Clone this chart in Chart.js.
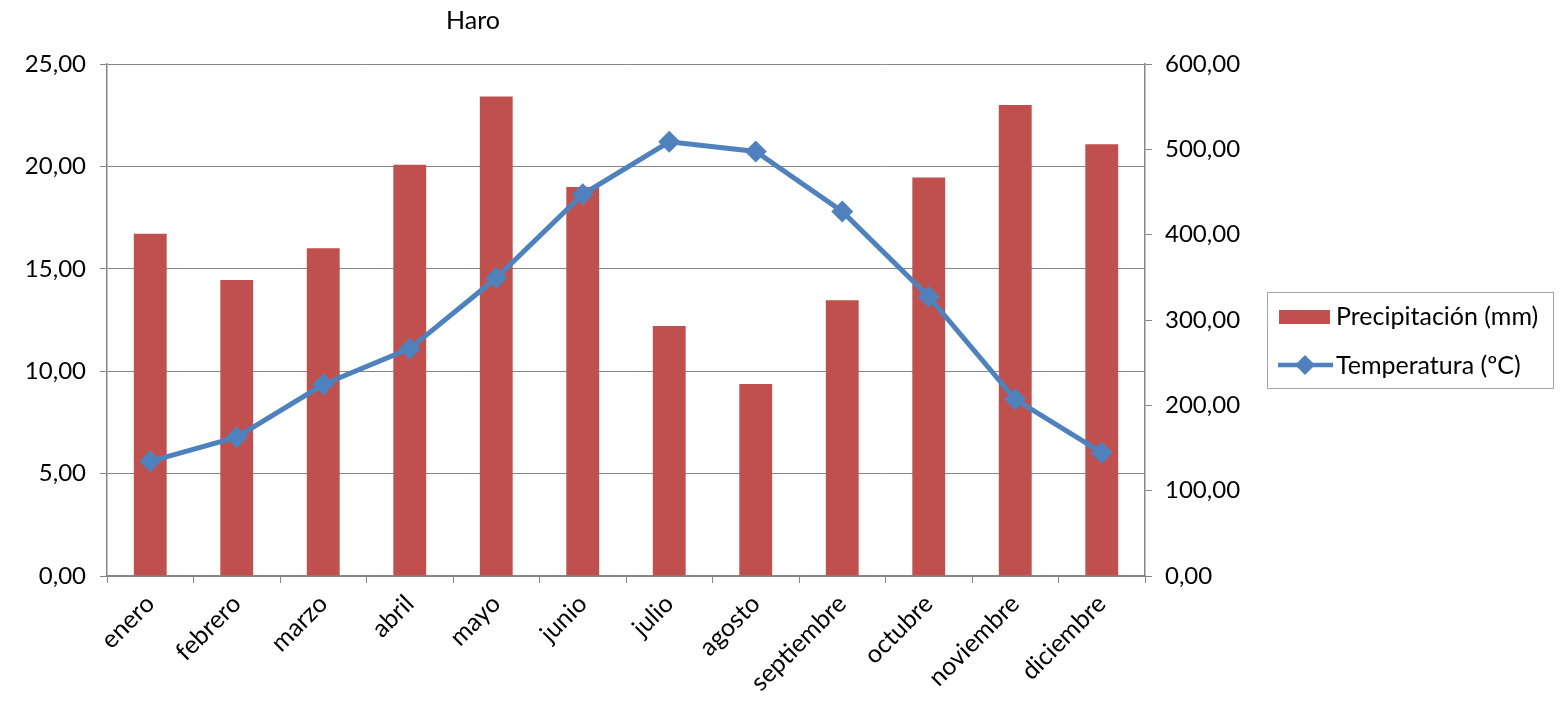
<!DOCTYPE html>
<html>
<head>
  <title>Haro</title>
  <script src="https://cdn.jsdelivr.net/npm/chart.js"></script>
  <style>
    html, body { margin: 0; padding: 0; background: #fff; }
    #wrap { width: 1566px; height: 704px; }
  </style>
</head>
<body>
  <div id="wrap"><canvas id="chart" width="1566" height="704"></canvas></div>
  <script>
    // data
    const months = ['enero', 'febrero', 'marzo', 'abril', 'mayo', 'junio', 'julio', 'agosto',
                    'septiembre', 'octubre', 'noviembre', 'diciembre'];
    const precipitacion = [401, 347, 384, 482, 562, 456, 293, 225, 323, 467, 552, 506];
    const temperatura = [5.60, 6.78, 9.35, 11.10, 14.55, 18.64, 21.20, 20.73, 17.80, 13.64, 8.63, 6.02];
    const leftTicks = [0, 5, 10, 15, 20, 25];
    const rightTicks = [0, 100, 200, 300, 400, 500, 600];

    const FONT = 'Lato, "DejaVu Sans", sans-serif';
    const axisColor = '#868686';
    const barColor = '#C0504D';
    const lineColor = '#4F81BD';

    const fmt = v => Number(v).toFixed(2).replace('.', ',');

    // title + boxed legend, drawn on the canvas
    const extras = {
      id: 'extras',
      afterDraw(chart) {
        const ctx = chart.ctx;
        ctx.save();
        ctx.fillStyle = '#000';
        ctx.font = '25px ' + FONT;
        ctx.textAlign = 'center';
        ctx.textBaseline = 'middle';
        ctx.fillText('Haro', 473, 21);

        ctx.strokeStyle = '#a6a6a6';
        ctx.lineWidth = 1;
        ctx.strokeRect(1267.5, 292.5, 286, 96);

        const ds = chart.data.datasets;
        ctx.fillStyle = ds[0].backgroundColor;
        ctx.fillRect(1279, 310, 51, 14);

        ctx.strokeStyle = ds[1].borderColor;
        ctx.lineWidth = 4.5;
        ctx.beginPath();
        ctx.moveTo(1278, 365);
        ctx.lineTo(1333, 365);
        ctx.stroke();
        ctx.fillStyle = ds[1].borderColor;
        ctx.beginPath();
        ctx.moveTo(1305, 355);
        ctx.lineTo(1315, 365);
        ctx.lineTo(1305, 375);
        ctx.lineTo(1295, 365);
        ctx.closePath();
        ctx.fill();

        ctx.fillStyle = '#000';
        ctx.textAlign = 'left';
        ctx.font = '25px ' + FONT;
        ctx.fillText(ds[0].label, 1336, 317);
        ctx.fillText(ds[1].label, 1336, 366);
        ctx.restore();
      }
    };

    const ctx = document.getElementById('chart').getContext('2d');
    new Chart(ctx, {
      type: 'bar',
      data: {
        labels: months,
        datasets: [
          {
            type: 'bar',
            label: 'Precipitación (mm)',
            data: precipitacion,
            yAxisID: 'y1',
            backgroundColor: barColor,
            barPercentage: 0.76,
            categoryPercentage: 0.5,
            order: 2
          },
          {
            type: 'line',
            label: 'Temperatura (ºC)',
            data: temperatura,
            yAxisID: 'y',
            borderColor: lineColor,
            backgroundColor: lineColor,
            borderWidth: 5,
            pointStyle: 'rectRot',
            pointRadius: 11,
            pointBorderWidth: 0,
            pointBackgroundColor: lineColor,
            tension: 0,
            order: 1
          }
        ]
      },
      options: {
        responsive: false,
        animation: false,
        devicePixelRatio: 1,
        layout: { padding: { top: 64, left: 0, right: 0, bottom: 0 } },
        plugins: {
          legend: { display: false },
          title: { display: false },
          tooltip: { enabled: false }
        },
        scales: {
          x: {
            offset: true,
            grid: { offset: true, drawOnChartArea: false, drawTicks: true, tickLength: 7, color: axisColor },
            border: { color: axisColor, width: 1.5 },
            ticks: { minRotation: 45, maxRotation: 45, color: '#000', padding: 6, font: { family: FONT, size: 25 } },
            afterFit: s => { s.height = 128; }
          },
          y: {
            position: 'left',
            min: 0, max: 25,
            afterBuildTicks: s => { s.ticks = leftTicks.map(v => ({ value: v })); },
            ticks: { callback: fmt, color: '#000', padding: 14, font: { family: FONT, size: 24 } },
            grid: { color: axisColor, tickLength: 7 },
            border: { color: axisColor, width: 1.5 },
            afterFit: s => { s.width = 107; }
          },
          y1: {
            position: 'right',
            min: 0, max: 600,
            afterBuildTicks: s => { s.ticks = rightTicks.map(v => ({ value: v })); },
            ticks: { callback: fmt, color: '#000', padding: 13, font: { family: FONT, size: 24 } },
            grid: { drawOnChartArea: false, tickLength: 7, color: axisColor },
            border: { color: axisColor, width: 1.5 },
            afterFit: s => { s.width = 421; }
          }
        }
      },
      plugins: [extras]
    });
  </script>
</body>
</html>
